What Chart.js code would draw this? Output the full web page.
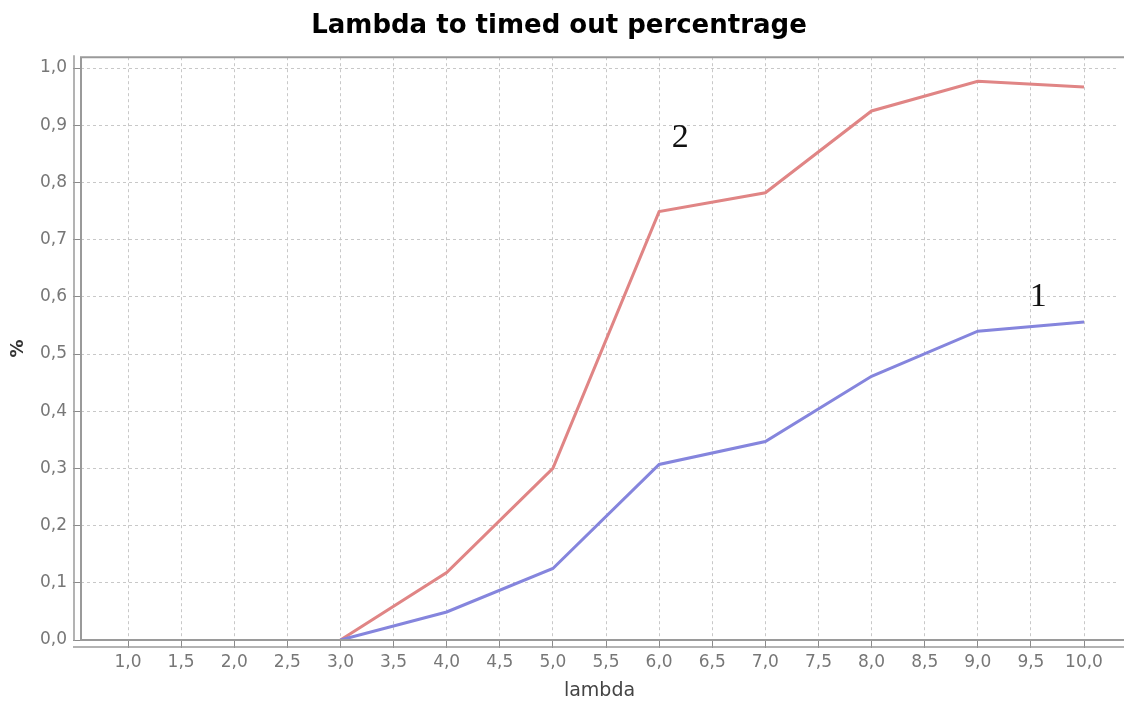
<!DOCTYPE html>
<html>
<head>
<meta charset="utf-8">
<script src="https://cdn.jsdelivr.net/npm/chart.js@4"></script>
<style>
  html, body { margin: 0; padding: 0; background: #fff; }
  #wrap { width: 1126px; height: 705px; }
</style>
</head>
<body>
<div id="wrap"><canvas id="chart"></canvas></div>
<script>
// lambda values and the two series
const lambdas = [3.0, 4.0, 5.0, 6.0, 7.0, 8.0, 9.0, 10.0];
const series1 = [0.0, 0.049, 0.125, 0.307, 0.347, 0.461, 0.540, 0.556];
const series2 = [0.0, 0.118, 0.300, 0.749, 0.782, 0.925, 0.977, 0.967];
const seriesNames = ["1", "2"];
// tick values on both axes
const xTicks = [1.0, 1.5, 2.0, 2.5, 3.0, 3.5, 4.0, 4.5, 5.0, 5.5, 6.0, 6.5, 7.0, 7.5, 8.0, 8.5, 9.0, 9.5, 10.0];
const yTicks = [0.0, 0.1, 0.2, 0.3, 0.4, 0.5, 0.6, 0.7, 0.8, 0.9, 1.0];
// where the hand-written series numbers sit, in data units
const labelX = [9.57, 6.20];
const labelY = [0.60, 0.877];

const gray = "#8a8a8a";
const gridColor = "#c8c8c8";

function toPoints(ys) {
    return lambdas.map((x, i) => ({ x: x, y: ys[i] }));
}

function fmt(v) {
    return v.toFixed(1).replace(".", ",");
}

// plot outline plus the offset axis lines, like the original chart
const framePlugin = {
    id: "frame",
    afterDraw(chart) {
        const a = chart.chartArea;
        const ctx = chart.ctx;
        ctx.save();
        ctx.strokeStyle = "#9a9a9a";
        ctx.lineWidth = 2;
        ctx.beginPath();
        ctx.moveTo(a.right + 6, a.top);
        ctx.lineTo(a.left, a.top);
        ctx.lineTo(a.left, a.bottom);
        ctx.lineTo(a.right + 6, a.bottom);
        ctx.stroke();
        ctx.lineWidth = 1.5;
        ctx.beginPath();
        ctx.moveTo(a.left - 7, a.top - 2);
        ctx.lineTo(a.left - 7, a.bottom + 1);
        ctx.moveTo(a.left - 8, a.bottom + 7);
        ctx.lineTo(a.right + 6, a.bottom + 7);
        ctx.stroke();
        ctx.restore();
    }
};

const seriesLabelPlugin = {
    id: "seriesLabels",
    afterDatasetsDraw(chart) {
        const xs = chart.scales.x, ys = chart.scales.y;
        const ctx = chart.ctx;
        ctx.save();
        ctx.fillStyle = "#111";
        ctx.font = "34px 'Liberation Serif'";
        ctx.textAlign = "center";
        ctx.textBaseline = "middle";
        seriesNames.forEach((name, i) => {
            ctx.fillText(name, xs.getPixelForValue(labelX[i]), ys.getPixelForValue(labelY[i]));
        });
        ctx.restore();
    }
};

new Chart(document.getElementById("chart"), {
    type: "line",
    data: {
        datasets: [
            {
                label: seriesNames[0],
                data: toPoints(series1),
                borderColor: "#8585dd",
                borderWidth: 3,
                pointRadius: 0,
                tension: 0
            },
            {
                label: seriesNames[1],
                data: toPoints(series2),
                borderColor: "#e08585",
                borderWidth: 3,
                pointRadius: 0,
                tension: 0
            }
        ]
    },
    options: {
        responsive: true,
        maintainAspectRatio: false,
        animation: false,
        layout: { padding: { left: 0, right: 8, top: 0, bottom: 0 } },
        plugins: {
            legend: { display: false },
            tooltip: { enabled: false },
            title: {
                display: true,
                text: "Lambda to timed out percentrage",
                color: "#000",
                font: { family: "'DejaVu Sans'", size: 26, weight: "bold" },
                padding: { top: 11, bottom: 15 }
            }
        },
        scales: {
            x: {
                type: "linear",
                min: 0.5575,
                max: 10.32,
                afterBuildTicks: s => { s.ticks = xTicks.map(v => ({ value: v })); },
                afterFit: s => { s.height = 65; },
                border: { display: false, dash: [3, 3] },
                grid: {
                    color: gridColor,
                    tickColor: gray,
                    tickLength: 8,
                    lineWidth: 1
                },
                ticks: {
                    color: "#777",
                    font: { family: "'DejaVu Sans'", size: 17 },
                    padding: 4,
                    maxRotation: 0,
                    autoSkip: false,
                    callback: v => fmt(v)
                },
                title: {
                    display: true,
                    text: "lambda",
                    color: "#444",
                    font: { family: "'DejaVu Sans'", size: 19 },
                    padding: { top: 0, bottom: 3 }
                }
            },
            y: {
                type: "linear",
                min: 0,
                max: 1.019,
                afterBuildTicks: s => { s.ticks = yTicks.map(v => ({ value: v })); },
                afterFit: s => { s.width = 81; },
                border: { display: false, dash: [3, 3] },
                grid: {
                    color: gridColor,
                    tickColor: gray,
                    tickLength: 8,
                    lineWidth: 1
                },
                ticks: {
                    color: "#777",
                    font: { family: "'DejaVu Sans'", size: 17 },
                    padding: 6,
                    callback: v => fmt(v)
                },
                title: {
                    display: true,
                    text: "%",
                    color: "#333",
                    font: { family: "'DejaVu Sans'", size: 18, weight: "bold" },
                    padding: { top: 8, bottom: 0 }
                }
            }
        }
    },
    plugins: [framePlugin, seriesLabelPlugin]
});
</script>
</body>
</html>
